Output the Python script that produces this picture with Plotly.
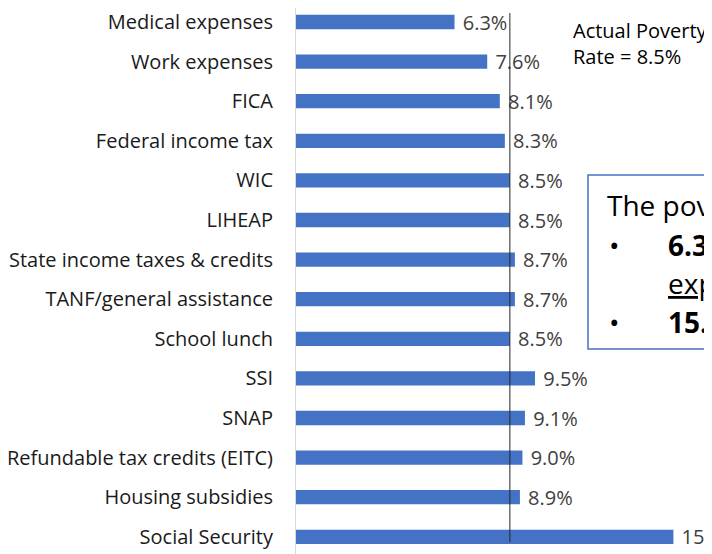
import plotly.graph_objects as go

# Poverty rate when each item is excluded from the resource measure
categories = ['Medical expenses', 'Work expenses', 'FICA', 'Federal income tax', 'WIC', 'LIHEAP',
              'State income taxes & credits', 'TANF/general assistance', 'School lunch', 'SSI', 'SNAP',
              'Refundable tax credits (EITC)', 'Housing subsidies', 'Social Security']
rates = [6.3, 7.6, 8.1, 8.3, 8.5, 8.5, 8.7, 8.7, 8.5, 9.5, 9.1, 9.0, 8.9, 15.0]
actual_rate = 8.5

# the page puts the figure 8px in from the top-left corner
OFF = 8
W, H = 712 - OFF, 554 - OFF
L, T = 296 - OFF, 0
PX_PER_PCT = 25.16
PX_PER_CAT = 39.6

def px(x):
    return (x - OFF - L) / (W - L)

def py(y):
    return (H - (y - OFF)) / (H - T)

top_cat = -(22 - OFF - T) / PX_PER_CAT
bottom_cat = top_cat + (H - T) / PX_PER_CAT

fig = go.Figure(go.Bar(
    x=rates, y=categories, orientation='h',
    marker=dict(color='#4472C4', line=dict(width=0)),
    text=['\u00a0%.1f%%' % r for r in rates], textposition='outside',
    textfont=dict(family='Open Sans', size=20, color='#404040'),
    constraintext='none', cliponaxis=False,
))

# actual poverty rate reference line
fig.add_shape(type='line', xref='x', yref='paper', x0=actual_rate, x1=actual_rate,
              y0=py(542), y1=py(13), line=dict(color='#262626', width=1))

fig.add_annotation(xref='paper', yref='paper', x=px(571), y=py(44), xanchor='left', yanchor='middle',
                   text='Actual Poverty<br>Rate = 8.5%', showarrow=False, align='left',
                   font=dict(family='Open Sans', size=20, color='#000000'))

# text box on the right (cropped in the original)
fig.add_shape(type='rect', xref='paper', yref='paper', x0=px(588), x1=px(900), y0=py(349), y1=py(175),
              line=dict(color='#4472C4', width=1.5), fillcolor='white')
box_font = dict(family='Open Sans', size=28, color='#000000')
fig.add_annotation(xref='paper', yref='paper', x=px(605), y=py(205), xanchor='left', yanchor='middle',
                   text='The poverty rate would be:', showarrow=False, font=box_font)
for yy in (245, 322):
    fig.add_annotation(xref='paper', yref='paper', x=px(607), y=py(yy), xanchor='left', yanchor='middle',
                       text='•', showarrow=False, font=box_font)
fig.add_annotation(xref='paper', yref='paper', x=px(666), y=py(245), xanchor='left', yanchor='middle',
                   text='<b>6.3% without medical</b>', showarrow=False, font=box_font)
fig.add_annotation(xref='paper', yref='paper', x=px(666), y=py(283), xanchor='left', yanchor='middle',
                   text='<u>expenses</u>', showarrow=False, font=box_font)
fig.add_annotation(xref='paper', yref='paper', x=px(666), y=py(322), xanchor='left', yanchor='middle',
                   text='<b>15.0% without Social</b>', showarrow=False, font=box_font)

fig.update_layout(
    width=W, height=H, margin=dict(l=L, r=0, t=T, b=0),
    plot_bgcolor='white', paper_bgcolor='white', showlegend=False,
    bargap=0.64,
    xaxis=dict(range=[0, (W - L) / PX_PER_PCT], visible=False),
    yaxis=dict(range=[bottom_cat, top_cat], showline=True, linecolor='#D9D9D9', linewidth=1,
               ticks='', ticklabelstandoff=18, showgrid=False,
               tickfont=dict(family='Open Sans', size=20, color='#1a1a1a')),
)

fig.write_html('out.html')
